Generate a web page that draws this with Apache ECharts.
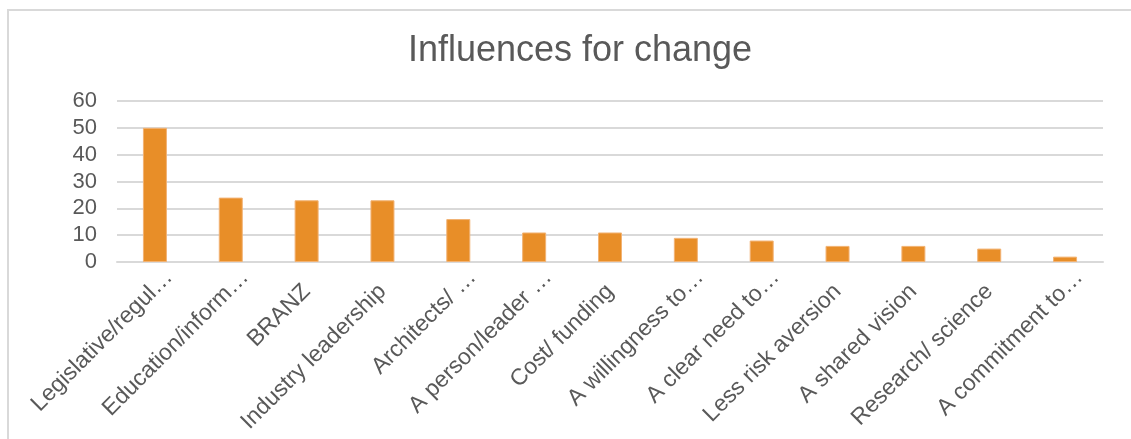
<!DOCTYPE html>
<html>
<head>
<meta charset="utf-8">
<script src="https://cdn.jsdelivr.net/npm/echarts@6/dist/echarts.min.js"></script>
<style>
html,body{margin:0;padding:0;background:#fff;width:1131px;height:439px;overflow:hidden;}
#frame{position:absolute;left:7px;top:9px;width:1140px;height:440px;border:2px solid #d9d9d9;box-sizing:border-box;}
#chart{position:absolute;left:0;top:0;width:1131px;height:439px;}
</style>
</head>
<body>
<div id="frame"></div>
<div id="chart"></div>
<script>
const titleText = "Influences for change";
const categories = [
  "Legislative/regul…",
  "Education/inform…",
  "BRANZ",
  "Industry leadership",
  "Architects/ …",
  "A person/leader …",
  "Cost/ funding",
  "A willingness to…",
  "A clear need to…",
  "Less risk aversion",
  "A shared vision",
  "Research/ science",
  "A commitment to…"
];
const values = [50, 24, 23, 23, 16, 11, 11, 9, 8, 6, 6, 5, 2];
const yTicks = [0, 10, 20, 30, 40, 50, 60];

const FONT = 'Liberation Sans, Arial, sans-serif';
const LABEL_COLOR = '#595959';

const chart = echarts.init(document.getElementById('chart'), null, {renderer: 'canvas'});
chart.setOption({
  animation: false,
  backgroundColor: 'transparent',
  title: {
    text: titleText,
    left: 575,
    textAlign: 'center',
    top: 28,
    textStyle: {fontFamily: FONT, fontSize: 36, fontWeight: 'normal', color: LABEL_COLOR}
  },
  grid: {left: 117, right: 28, top: 101, bottom: 177, containLabel: false},
  xAxis: {
    type: 'category',
    data: categories,
    axisLine: {show: true, lineStyle: {color: '#d9d9d9', width: 2}},
    axisTick: {show: false},
    axisLabel: {
      rotate: 45,
      interval: 0,
      margin: 26,
      fontFamily: FONT,
      fontSize: 23,
      color: LABEL_COLOR,
      formatter: function (v) {
        if (v.endsWith('…')) {
          const cut = v.endsWith(' …') ? v.length - 2 : v.length - 1;
          return '{t|' + v.slice(0, cut) + '}{e|' + v.slice(cut).replace(' ', '\u00a0') + '}';
        }
        return '{t|' + v + '}';
      },
      rich: {
        t: {fontFamily: FONT, fontSize: 23, color: LABEL_COLOR},
        e: {fontFamily: FONT, fontSize: 23, color: LABEL_COLOR, padding: [0, -20, 0, 0]}
      }
    }
  },
  yAxis: {
    type: 'value',
    min: yTicks[0],
    max: yTicks[yTicks.length - 1],
    interval: 10,
    axisLine: {show: false},
    axisTick: {show: false},
    splitLine: {lineStyle: {color: '#d9d9d9', width: 2}},
    axisLabel: {
      margin: 20,
      fontFamily: FONT,
      fontSize: 22,
      color: LABEL_COLOR
    }
  },
  series: [{
    type: 'bar',
    data: values,
    barWidth: 24,
    itemStyle: {color: '#E88E28', borderColor: '#F2B374', borderWidth: 1}
  }]
});
</script>
</body>
</html>
